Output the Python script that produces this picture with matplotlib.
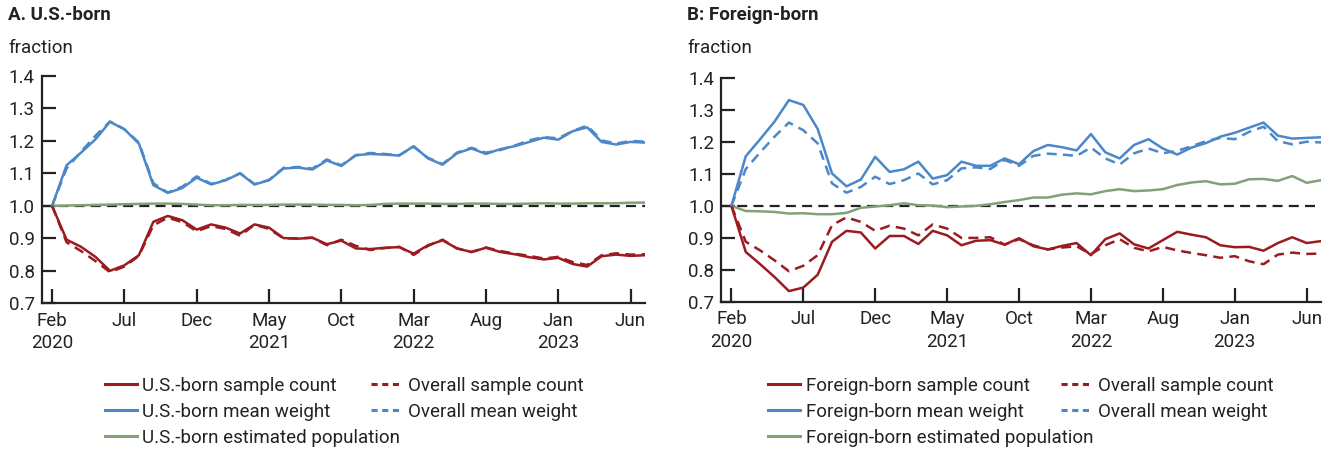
import numpy as np
import matplotlib
matplotlib.use("Agg")
import matplotlib.pyplot as plt
from matplotlib.lines import Line2D

plt.rcParams['font.family'] = ['Roboto', 'DejaVu Sans']

# monthly, Feb 2020 .. Jul 2023
months = np.arange(42)
tick_pos = [0, 5, 10, 15, 20, 25, 30, 35, 40]
tick_labels = ["Feb\n2020", "Jul", "Dec", "May\n2021", "Oct", "Mar\n2022", "Aug", "Jan\n2023", "Jun"]

# overall series (shared by both panels)
overall_count = [1.0, 0.888, 0.861, 0.830, 0.796, 0.813, 0.846, 0.940, 0.964, 0.950,
                 0.922, 0.938, 0.929, 0.908, 0.942, 0.929, 0.900, 0.900, 0.902, 0.879,
                 0.896, 0.877, 0.864, 0.870, 0.874, 0.849, 0.877, 0.896, 0.869, 0.858,
                 0.872, 0.861, 0.853, 0.846, 0.838, 0.843, 0.827, 0.818, 0.848, 0.854,
                 0.850, 0.851]
overall_weight = [1.0, 1.115, 1.167, 1.216, 1.260, 1.236, 1.195, 1.070, 1.041, 1.059,
                  1.091, 1.068, 1.080, 1.101, 1.067, 1.080, 1.117, 1.120, 1.115, 1.143,
                  1.125, 1.156, 1.163, 1.160, 1.156, 1.182, 1.148, 1.129, 1.164, 1.179,
                  1.164, 1.172, 1.186, 1.202, 1.212, 1.208, 1.231, 1.247, 1.202, 1.192,
                  1.200, 1.198]

# U.S.-born
us_count = [1.0, 0.896, 0.874, 0.843, 0.800, 0.817, 0.848, 0.951, 0.969, 0.956,
            0.927, 0.943, 0.933, 0.915, 0.943, 0.933, 0.901, 0.899, 0.902, 0.882,
            0.893, 0.869, 0.867, 0.871, 0.873, 0.853, 0.879, 0.894, 0.869, 0.858,
            0.871, 0.858, 0.851, 0.842, 0.835, 0.840, 0.821, 0.813, 0.845, 0.850,
            0.846, 0.848]
us_weight = [1.0, 1.125, 1.164, 1.205, 1.259, 1.236, 1.192, 1.064, 1.040, 1.055,
             1.087, 1.066, 1.079, 1.100, 1.066, 1.079, 1.115, 1.118, 1.112, 1.140,
             1.123, 1.156, 1.160, 1.158, 1.155, 1.184, 1.146, 1.127, 1.162, 1.177,
             1.160, 1.175, 1.184, 1.197, 1.210, 1.204, 1.230, 1.242, 1.197, 1.189,
             1.197, 1.195]
us_pop = [1.0, 1.001, 1.002, 1.003, 1.004, 1.005, 1.006, 1.007, 1.007, 1.006,
          1.004, 1.002, 1.002, 1.003, 1.003, 1.003, 1.004, 1.004, 1.004, 1.003,
          1.003, 1.002, 1.003, 1.006, 1.007, 1.007, 1.007, 1.006, 1.006, 1.007,
          1.007, 1.006, 1.006, 1.007, 1.008, 1.007, 1.007, 1.008, 1.008, 1.008,
          1.010, 1.010]

# Foreign-born
fb_count = [1.0, 0.856, 0.818, 0.778, 0.734, 0.745, 0.785, 0.888, 0.922, 0.917,
            0.867, 0.906, 0.906, 0.881, 0.922, 0.908, 0.877, 0.891, 0.893, 0.879,
            0.899, 0.874, 0.864, 0.875, 0.884, 0.846, 0.896, 0.914, 0.880, 0.867,
            0.893, 0.919, 0.910, 0.902, 0.877, 0.871, 0.872, 0.860, 0.884, 0.902,
            0.884, 0.890]
fb_weight = [1.0, 1.155, 1.208, 1.263, 1.330, 1.315, 1.240, 1.101, 1.061, 1.082,
             1.153, 1.106, 1.114, 1.138, 1.085, 1.096, 1.138, 1.125, 1.125, 1.148,
             1.130, 1.171, 1.190, 1.183, 1.173, 1.224, 1.167, 1.148, 1.190, 1.208,
             1.179, 1.160, 1.182, 1.196, 1.216, 1.228, 1.244, 1.260, 1.219, 1.210,
             1.212, 1.214]
fb_pop = [1.0, 0.984, 0.983, 0.981, 0.976, 0.977, 0.974, 0.974, 0.978, 0.994,
          0.998, 1.002, 1.008, 1.002, 1.001, 0.996, 0.998, 1.000, 1.005, 1.012,
          1.018, 1.026, 1.026, 1.035, 1.039, 1.036, 1.046, 1.052, 1.046, 1.048,
          1.052, 1.065, 1.073, 1.077, 1.067, 1.069, 1.083, 1.084, 1.078, 1.093,
          1.072, 1.080]

RED = "#9b1b20"
BLUE = "#4b87c9"
GREEN = "#84a076"
FS = 13.5
LW = 1.8
DASH = (4, 2.5)

fig = plt.figure(figsize=(13.36, 4.49), dpi=100)
axA = fig.add_axes([0.0312, 0.3245, 0.4516, 0.5062])
axB = fig.add_axes([0.5397, 0.3274, 0.4491, 0.4996])


def draw(ax, own_count, own_weight, own_pop):
    ax.axhline(1.0, color="#222222", lw=1.6, dashes=(4.5, 2.8), zorder=1)
    ax.plot(months, own_pop, color=GREEN, lw=LW, zorder=2)
    ax.plot(months, own_count, color=RED, lw=LW, zorder=3)
    ax.plot(months, overall_count, color=RED, lw=LW, dashes=DASH, zorder=4)
    ax.plot(months, own_weight, color=BLUE, lw=LW, zorder=3)
    ax.plot(months, overall_weight, color=BLUE, lw=LW, dashes=DASH, zorder=4)
    ax.set_xlim(-0.72, 41)
    ax.set_ylim(0.7, 1.4)
    ax.set_yticks(np.arange(0.7, 1.41, 0.1))
    ax.set_yticklabels(["%.1f" % v for v in np.arange(0.7, 1.41, 0.1)])
    ax.set_xticks(tick_pos)
    ax.set_xticklabels(tick_labels, linespacing=1.3)
    for s in ["top", "right"]:
        ax.spines[s].set_visible(False)
    for s in ["left", "bottom"]:
        ax.spines[s].set_linewidth(1.6)
        ax.spines[s].set_color("#222222")
    ax.tick_params(direction="in", length=10, width=1.6, color="#222222",
                   labelsize=FS, labelcolor="#222222")
    ax.tick_params(axis="x", pad=6)
    ax.tick_params(axis="y", pad=5)


draw(axA, us_count, us_weight, us_pop)
draw(axB, fb_count, fb_weight, fb_pop)

fig.text(8 / 1336, 1 - 15 / 449, "A. U.S.-born", fontsize=FS, fontweight="bold",
         va="center", ha="left", color="#222222")
fig.text(8 / 1336, 1 - 48 / 449, "fraction", fontsize=FS, va="center", ha="left", color="#222222")
fig.text(687 / 1336, 1 - 15 / 449, "B: Foreign-born", fontsize=FS, fontweight="bold",
         va="center", ha="left", color="#222222")
fig.text(687 / 1336, 1 - 48 / 449, "fraction", fontsize=FS, va="center", ha="left", color="#222222")


def legends(prefix, x1, x2):
    own = [Line2D([], [], color=RED, lw=2.2),
           Line2D([], [], color=BLUE, lw=2.2),
           Line2D([], [], color=GREEN, lw=2.2)]
    own_lab = [prefix + " sample count", prefix + " mean weight", prefix + " estimated population"]
    ovr = [Line2D([], [], color=RED, lw=2.2, dashes=(2, 1.5)),
           Line2D([], [], color=BLUE, lw=2.2, dashes=(2, 1.5))]
    ovr_lab = ["Overall sample count", "Overall mean weight"]
    for h, l, x in [(own, own_lab, x1), (ovr, ovr_lab, x2)]:
        fig.legend(h, l, loc="upper left", bbox_to_anchor=(x / 1336, 1 - 377 / 449),
                   frameon=False, fontsize=FS, handlelength=1.7, handletextpad=0.3,
                   labelspacing=0.42, borderpad=0, borderaxespad=0, labelcolor="#222222")


legends("U.S.-born", 105, 371)
legends("Foreign-born", 768, 1061)

fig.savefig("out.png", dpi=100)
